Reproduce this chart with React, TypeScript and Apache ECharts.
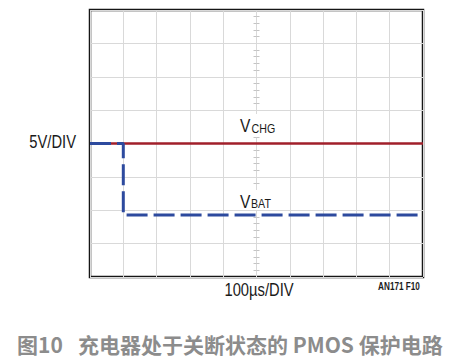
import React, { useEffect, useRef } from "react";
import * as echarts from "echarts";

// Oscilloscope trace data, in divisions (x: 10 div of 100µs, y: 8 div of 5V)
const vchgX = [0, 10];
const vchgY = [4.0, 4.0];
const vbatX = [0, 1, 1, 10];
const vbatY = [4.0, 4.0, 1.86, 1.86];

const xDivs = 10;
const yDivs = 8;

const FONT = '"Liberation Sans", Arial, sans-serif';
const NARROW = 0.82;

function txt(text: string, x: number, y: number, size: number, align: string, opts: any = {}) {
  return {
    type: "text",
    x,
    y,
    z: 100,
    scaleX: opts.scaleX ?? NARROW,
    style: {
      text,
      font: `${opts.bold ? "bold " : ""}${size}px ${opts.family ?? FONT}`,
      fill: opts.fill ?? "#1a1a1a",
      align,
      verticalAlign: "middle",
    },
  };
}

function whiteBox(x: number, y: number, w: number, h: number) {
  return { type: "rect", z: 99, shape: { x, y, width: w, height: h }, style: { fill: "#ffffff" } };
}

export default function App() {
  const ref = useRef<HTMLDivElement>(null);
  useEffect(() => {
    if (!ref.current) return;
    const chart = echarts.init(ref.current, null, { renderer: "svg" });
    const gridL = 90, gridT = 10, gridW = 333, gridH = 267;
    const centerAxisY = (inside: boolean) => ({
      type: "value",
      min: 0,
      max: yDivs,
      interval: 1,
      position: "left",
      offset: -gridW / 2,
      axisLine: { show: false },
      axisLabel: { show: false },
      splitLine: { show: false },
      axisTick: { show: false, inside },
      minorTick: { show: true, splitNumber: 5, length: 3, lineStyle: { color: "#c4c4c4", width: 1 } },
    });

    chart.setOption({
      animation: false,
      backgroundColor: "#ffffff",
      grid: {
        left: gridL,
        top: gridT,
        width: gridW,
        height: gridH,
        show: true,
        borderColor: "#151515",
        borderWidth: 2.5,
        containLabel: false,
      },
      xAxis: [
        {
          type: "value",
          min: 0,
          max: xDivs,
          interval: 1,
          axisLine: { show: false },
          axisTick: { show: false },
          axisLabel: { show: false },
          splitLine: { show: true, lineStyle: { color: "#d9d9d9", width: 1 } },
        },
      ],
      yAxis: [
        {
          type: "value",
          min: 0,
          max: yDivs,
          interval: 1,
          axisLine: { show: false },
          axisTick: { show: false },
          axisLabel: { show: false },
          splitLine: { show: true, lineStyle: { color: "#d9d9d9", width: 1 } },
        },
        centerAxisY(true),
        centerAxisY(false),
      ],
      series: [
        {
          type: "line",
          name: "VCHG",
          data: vchgX.map((x, i) => [x, vchgY[i]]),
          showSymbol: false,
          lineStyle: { color: "#a11f2a", width: 2.5 },
          z: 3,
        },
        {
          type: "line",
          name: "VBAT",
          data: vbatX.map((x, i) => [x, vbatY[i]]),
          showSymbol: false,
          lineStyle: { color: "#2d4a9e", width: 3, type: [21, 6] },
          z: 4,
        },
      ],
      graphic: [
        whiteBox(236, 114, 42, 23),
        whiteBox(236, 190, 40, 20),
        txt("5V/DIV", 76, 141, 18, "right"),
        txt("V", 240, 125, 19, "left"),
        txt("CHG", 251.5, 129, 13, "left"),
        txt("V", 240, 201, 19, "left"),
        txt("BAT", 251, 203.5, 13, "left"),
        txt("100µs/DIV", 259, 289, 18, "center"),
        txt("AN171 F10", 399, 287, 10, "center", { bold: true }),
        txt("图10", 17, 344, 21, "left", { bold: true, scaleX: 1, fill: "#8c8c8c", family: '"Noto Sans CJK SC", sans-serif' }),
        txt("充电器处于关断状态的 PMOS 保护电路", 78, 344, 21, "left", {
          bold: true,
          scaleX: 1,
          fill: "#8c8c8c",
          family: '"Noto Sans CJK SC", sans-serif',
        }),
      ],
    });
    return () => chart.dispose();
  }, []);
  return (
    <div
      ref={ref}
      style={{ position: "fixed", left: 0, top: 0, width: 453, height: 363, background: "#fff" }}
    />
  );
}
